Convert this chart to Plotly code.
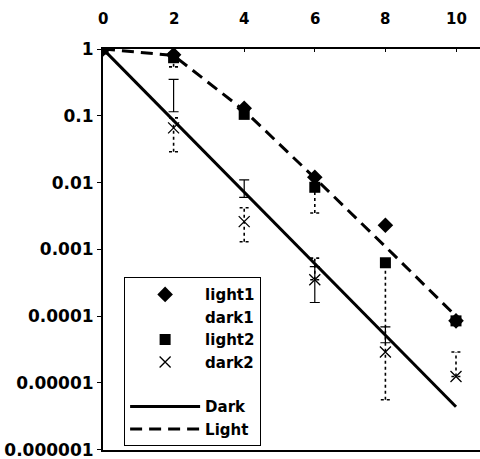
import plotly.graph_objects as go

# ---- data ----
x_pts = [0, 2, 4, 6, 8, 10]

light1_y = [1, 0.82, 0.13, 0.012, 0.0023, 8.5e-5]
light2_y = [1, 0.74, 0.105, 0.0085, 0.00063, 8.5e-5]
light2_low = [1, 0.54, 0.105, 0.0035, 5.6e-6, 8.5e-5]

dark1_x = [2, 4, 6, 8]
dark1_y = [0.2, 0.008, 0.0003, 5e-5]
dark1_low = [0.115, 0.006, 0.00016, 4e-5]
dark1_high = [0.35, 0.011, 0.00055, 6.9e-5]

dark2_y = [1, 0.066, 0.0026, 0.00035, 2.9e-5, 1.25e-5]
dark2_low = [1, 0.029, 0.0013, 0.00035, 2.9e-5, 1.25e-5]
dark2_high = [1, 0.093, 0.0042, 0.00074, 2.9e-5, 2.9e-5]

dark_line_x = [0, 10]
dark_line_y = [1, 4.4e-6]
light_line_x = [0, 2, 4, 6, 8, 10]
light_line_y = [1, 0.8, 0.12, 0.0117, 0.0011, 1.0e-4]

x_ticks = [0, 2, 4, 6, 8, 10]
x_ticktext = ["0", "2", "4", "6", "8", "10"]
y_tickvals = [1, 0.1, 0.01, 0.001, 0.0001, 0.00001, 0.000001]
y_ticktext = ["1", "0.1", "0.01", "0.001", "0.0001", "0.00001", "0.000001"]

FONT = "DejaVu Sans"
CAP = 0.13  # half cap width in x units


def bar_segments(xs, lows, highs):
    """Build vertical segments with caps from data arrays."""
    sx, sy = [], []
    for xv, lo, hi in zip(xs, lows, highs):
        if hi > lo:
            sx += [xv, xv, None, xv - CAP, xv + CAP, None, xv - CAP, xv + CAP, None]
            sy += [lo, hi, None, lo, lo, None, hi, hi, None]
    return sx, sy


fig = go.Figure()

# dotted error bars
lx, ly = bar_segments(x_pts, light2_low, light2_y)
fig.add_trace(go.Scatter(x=lx, y=ly, mode="lines", showlegend=False,
                         line=dict(color="black", width=1.6, dash="dot")))
dx, dy = bar_segments(x_pts, dark2_low, dark2_high)
fig.add_trace(go.Scatter(x=dx, y=dy, mode="lines", showlegend=False,
                         line=dict(color="black", width=1.6, dash="dot")))

# markers
fig.add_trace(go.Scatter(x=x_pts, y=light1_y, mode="markers", name="light1",
                         legendgroup="m",
                         marker=dict(symbol="diamond", size=12, color="black")))
fig.add_trace(go.Scatter(x=dark1_x, y=dark1_y, mode="markers", name="dark1",
                         legendgroup="m",
                         marker=dict(size=8, color="rgba(0,0,0,0)"),
                         error_y=dict(type="data", symmetric=False,
                                      array=[h - v for h, v in zip(dark1_high, dark1_y)],
                                      arrayminus=[v - l for v, l in zip(dark1_y, dark1_low)],
                                      color="black", thickness=1.2, width=5)))
fig.add_trace(go.Scatter(x=x_pts, y=light2_y, mode="markers", name="light2",
                         legendgroup="m",
                         marker=dict(symbol="square", size=11, color="black")))
fig.add_trace(go.Scatter(x=x_pts, y=dark2_y, mode="markers", name="dark2",
                         legendgroup="m",
                         marker=dict(symbol="x-thin-open", size=11, color="black",
                                     line=dict(color="black", width=1.3))))

# model lines
fig.add_trace(go.Scatter(x=dark_line_x, y=dark_line_y, mode="lines", name="Dark",
                         legendgroup="l",
                         line=dict(color="black", width=3)))
fig.add_trace(go.Scatter(x=light_line_x, y=light_line_y, mode="lines", name="Light",
                         legendgroup="l",
                         line=dict(color="black", width=3, dash="12px,7px")))

# top x tick labels as annotations at the tick values
for xv, txt in zip(x_ticks, x_ticktext):
    fig.add_annotation(x=xv, y=1.0748, xref="x", yref="paper", text=txt,
                       showarrow=False, xanchor="center", yanchor="middle",
                       font=dict(family=FONT, size=15, weight="bold", color="black"))

fig.update_layout(
    width=480, height=459,
    margin=dict(l=103, r=0, t=49, b=9),
    paper_bgcolor="white", plot_bgcolor="white",
    font=dict(family=FONT, color="black", size=15, weight="bold"),
    legend=dict(x=0.056, y=0.431, xanchor="left", yanchor="top",
                bordercolor="black", borderwidth=1, bgcolor="white",
                font=dict(family=FONT, size=15, weight="bold"),
                itemwidth=70, tracegroupgap=22, traceorder="grouped"),
    xaxis=dict(side="top", range=[0, 10.68], tickvals=x_ticks,
               showticklabels=False,
               showgrid=False, zeroline=False,
               showline=True, linecolor="black", linewidth=2, mirror=True,
               ticks="inside", ticklen=3, tickcolor="black"),
    yaxis=dict(type="log", range=[-6.004, 0], tickvals=y_tickvals, ticktext=y_ticktext,
               showgrid=False, zeroline=False,
               showline=True, linecolor="black", linewidth=2,
               ticks="outside", ticklen=4, tickcolor="black",
               ticklabeloverflow="allow",
               tickfont=dict(family=FONT, size=17, weight="bold")),
)

fig.write_html("out.html")
